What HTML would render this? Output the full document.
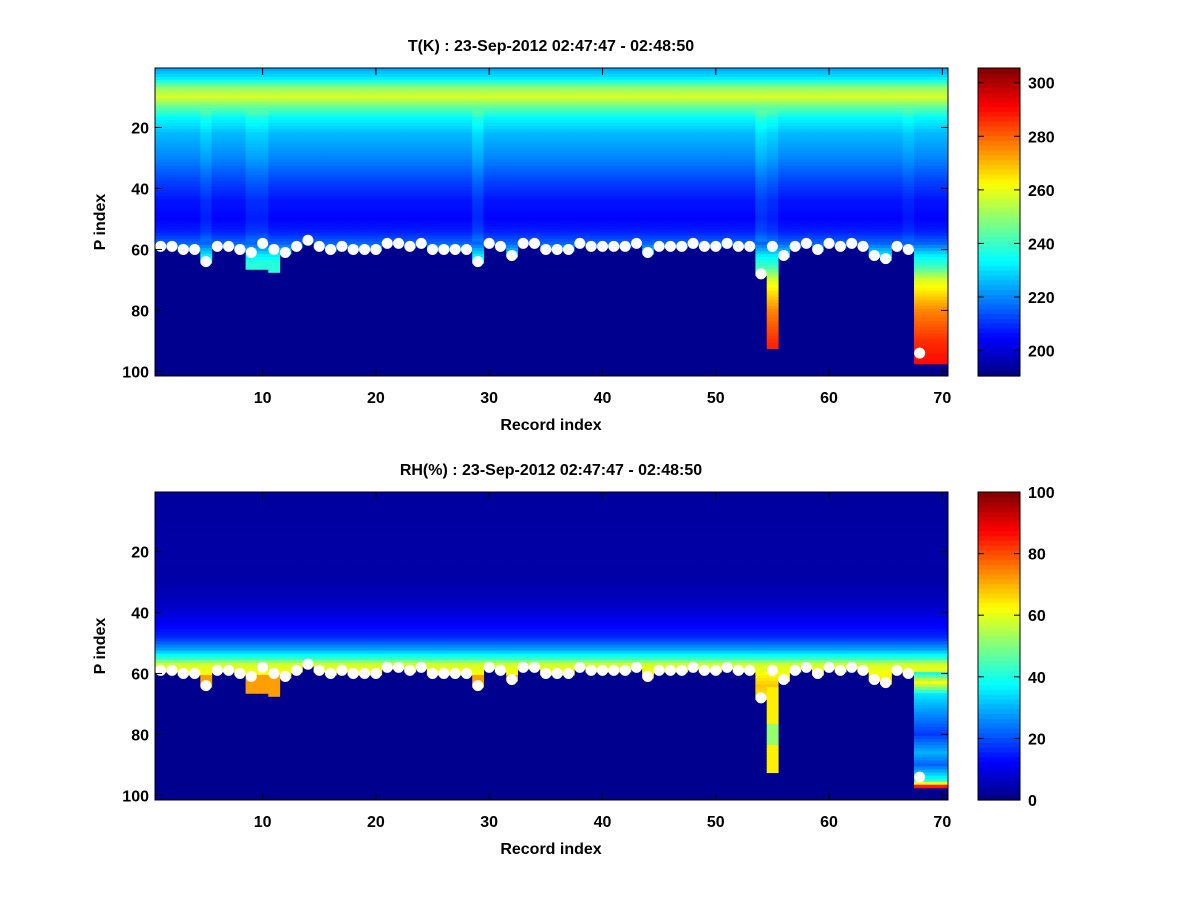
<!DOCTYPE html>
<html><head><meta charset="utf-8"><style>
body{margin:0;background:#fff}
svg text{font-family:"Liberation Sans",sans-serif;font-weight:bold;font-size:16px;fill:#000}
</style></head><body>
<svg id="s" width="1200" height="900" xmlns="http://www.w3.org/2000/svg"></svg>
<script>
// ---------- data ----------
const records = Array.from({length:70},(_,i)=>i+1);
const xTicks = [10,20,30,40,50,60,70];
const yTicks = [20,40,60,80,100];
const tTicks = [200,220,240,260,280,300];
const rhTicks = [0,20,40,60,80,100];
// surface P index (white dots); null = no dot
const surfaceIdx = [59,59,60,60,64,59,59,60,61,58,60,61,59,57,59,60,59,60,60,60,58,58,59,58,60,60,60,60,64,58,59,62,58,58,60,60,60,58,59,59,59,59,58,61,59,59,59,58,59,59,58,59,59,68,59,62,59,58,60,58,59,58,59,62,63,59,60,94,null,null];
// deepest valid level for each record
const bottomIdx = [59,59,60,60,64,59,59,60,66,66,67,61,59,57,59,60,59,60,60,60,58,58,59,58,60,60,60,60,64,58,59,62,58,58,60,60,60,58,59,59,59,59,58,61,59,59,59,58,59,59,58,59,59,68,92,62,59,58,60,58,59,58,59,62,63,59,60,97,97,97];
// temperature profile (K) at key levels
const tLevels = [1,4,7,10,13,17,22,30,38,44,50,54,58,62,66,70,80,90,97];
const tVals   = [224,232,250,258,246,233,226,220,212,207,205,208,216,232,242,258,276,286,290];
const tColShift = {5:3,9:3,10:3,29:4,54:5,55:3,67:2};
// relative humidity profile (%)
const rhLevels = [1,30,38,44,48,52,55,57,60,64,70,80,90,97];
const rhVals   = [3,4,7,12,16,28,42,58,62,68,64,50,62,80];
const rhCol68Levels=[60,63,67,72,80,86,90,95,97];
const rhCol68Vals  =[40,62,35,28,18,30,22,40,85];

// ---------- helpers ----------
function interp(L,V,l){if(l<=L[0])return V[0];for(let i=1;i<L.length;i++){if(l<=L[i]){const f=(l-L[i-1])/(L[i]-L[i-1]);return V[i-1]+f*(V[i]-V[i-1]);}}return V[V.length-1];}
function jet(v){v=Math.max(0,Math.min(1,v));const c=x=>Math.round(255*Math.max(0,Math.min(1,1.5-Math.abs(4*v-x))));return `rgb(${c(3)},${c(2)},${c(1)})`;}
const NS="http://www.w3.org/2000/svg";const svg=document.getElementById('s');
function mk(t,a,p){const e=document.createElementNS(NS,t);for(const k in a)e.setAttribute(k,a[k]);(p||svg).appendChild(e);return e;}

function panel(cfg){
  const {top,bot,title,yTitle,valFn,cmin,cmax,cticks,name}=cfg;
  const L=155,R=948;const xs=r=>L+(r-0.5)*(R-L)/70;const ys=p=>top+(p-0.5)*(bot-top)/101;
  const g=mk('g',{});
  const bg=mk('rect',{x:L,y:top,width:R-L,height:bot-top,fill:'#00008f'},g);
  
  const cells=mk('g',{},g);
  records.forEach((r,i)=>{for(let p=1;p<=bottomIdx[i];p++){const v=valFn(r,p);const c=jet((v-cmin)/(cmax-cmin));
    const e=mk('rect',{x:xs(r-0.5),y:ys(p-0.5),width:xs(r+0.5)-xs(r-0.5)+0.5,height:ys(p+0.5)-ys(p-0.5)+0.5,fill:c},cells);
    }});
  records.forEach((r,i)=>{if(surfaceIdx[i]!=null){const d=mk('circle',{cx:xs(r),cy:ys(surfaceIdx[i]),r:5.5,fill:'#fff'},g);
    }});
  const fr=mk('rect',{x:L,y:top,width:R-L,height:bot-top,fill:'none',stroke:'#000'},g);
  
  xTicks.forEach(t=>{const x=xs(t);mk('line',{x1:x,x2:x,y1:bot,y2:bot-7,stroke:'#000'},g);mk('line',{x1:x,x2:x,y1:top,y2:top+7,stroke:'#000'},g);
    const tx=mk('text',{x:x,y:bot+27,'text-anchor':'middle'},g);tx.textContent=t;});
  yTicks.forEach(t=>{const y=ys(t);mk('line',{x1:L,x2:L+7,y1:y,y2:y,stroke:'#000'},g);mk('line',{x1:R,x2:R-7,y1:y,y2:y,stroke:'#000'},g);
    const tx=mk('text',{x:L-6,y:y+6,'text-anchor':'end'},g);tx.textContent=t;});
  const tt=mk('text',{x:551,y:top-17,'text-anchor':'middle'},g);tt.textContent=title;
  const xl=mk('text',{x:551,y:bot+54,'text-anchor':'middle','font-size':'17'},g);xl.textContent='Record index';
  const yl=mk('text',{x:0,y:0,'text-anchor':'middle','font-size':'17',transform:`translate(105,${(top+bot)/2}) rotate(-90)`},g);yl.textContent=yTitle;
  // colorbar
  const CL=978,CR=1020;const cb=mk('g',{},g);
  const n=64;for(let k=0;k<n;k++){mk('rect',{x:CL,y:bot-(k+1)*(bot-top)/n,width:CR-CL,height:(bot-top)/n+0.6,fill:jet((k+0.5)/n)},cb);}
  mk('rect',{x:CL,y:top,width:CR-CL,height:bot-top,fill:'none',stroke:'#000'},cb);
  const cy=v=>bot-(v-cmin)/(cmax-cmin)*(bot-top);
  cticks.forEach(t=>{const y=cy(t);mk('line',{x1:CR,x2:CR-6,y1:y,y2:y,stroke:'#000'},cb);mk('line',{x1:CL,x2:CL+6,y1:y,y2:y,stroke:'#000'},cb);
    const tx=mk('text',{x:CR+8,y:y+6},cb);tx.textContent=t;});
}
panel({name:'temperature',top:68,bot:376,title:'T(K) : 23-Sep-2012 02:47:47 - 02:48:50',yTitle:'P index',cmin:190.5,cmax:305.5,cticks:tTicks,
  valFn:(r,p)=>{let v=interp(tLevels,tVals,p);if(tColShift[r]&&p<58&&p>14)v+=tColShift[r];if(p>58&&r<50)v=Math.min(v,238);return v;}});
panel({name:'humidity',top:492,bot:800,title:'RH(%) : 23-Sep-2012 02:47:47 - 02:48:50',yTitle:'P index',cmin:0,cmax:100,cticks:rhTicks,
  valFn:(r,p)=>{if(r>=68&&p>=60)return interp(rhCol68Levels,rhCol68Vals,p);let v=interp(rhLevels,rhVals,p);if(p>60&&r<50)v=72;if(r===55&&p>64)v=p>76&&p<84?52:64;return v;}});
</script>
</body></html>
